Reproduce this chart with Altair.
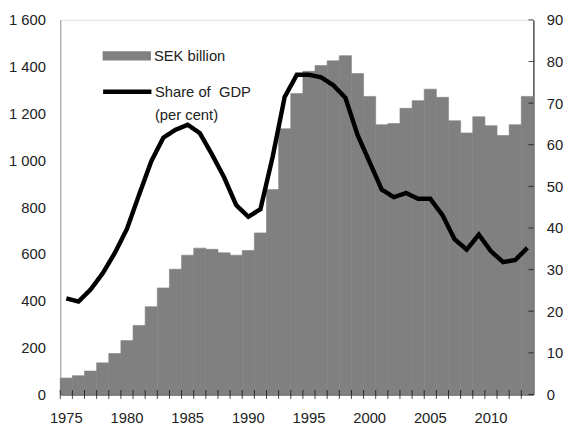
import altair as alt
import pandas as pd

years = list(range(1975, 2014))
sek_billion = [70, 80, 100, 135, 175, 230, 295, 375, 455, 535,
               595, 625, 620, 605, 595, 615, 690, 875, 1135, 1285,
               1380, 1405, 1425, 1447, 1371, 1273, 1152, 1157, 1222, 1255,
               1304, 1269, 1169, 1117, 1186, 1148, 1106, 1152, 1273]
share_gdp = [23.1, 22.3, 25.2, 29.1, 34.0, 39.8, 48.0, 56.0, 61.7, 63.6,
             64.8, 62.8, 57.7, 52.2, 45.5, 42.7, 44.5, 57.0, 71.5, 76.8,
             76.8, 76.2, 74.3, 71.3, 62.4, 55.8, 49.2, 47.4, 48.4, 47.0,
             47.0, 43.1, 37.3, 34.8, 38.4, 34.4, 31.8, 32.3, 35.2]
label_years = [1975, 1980, 1985, 1990, 1995, 2000, 2005, 2010]
left_ticks = [0, 200, 400, 600, 800, 1000, 1200, 1400, 1600]
right_ticks = [0, 10, 20, 30, 40, 50, 60, 70, 80, 90]
bar_name = "SEK billion"
line_name = "Share of\u00a0 GDP"
line_name2 = "(per cent)"

FONT = "Liberation Sans"
FS = 15
TXT = "#222222"

df = pd.DataFrame({"year": years, "sek": sek_billion, "share": share_gdp})
df_rt = pd.DataFrame({"v": right_ticks})

x_enc = alt.X("year:O", scale=alt.Scale(paddingInner=0, paddingOuter=0),
              axis=alt.Axis(values=label_years, ticks=False, labelAngle=0,
                            labelPadding=16, title=None, domainColor="#000",
                            labelColor=TXT, labelFontSize=FS, labelFont=FONT))

bars = alt.Chart(df).mark_bar(color="#808080", stroke="#808080", strokeWidth=0.6).transform_calculate(
    s1=f"'{bar_name}'"
).encode(
    x=x_enc,
    y=alt.Y("sek:Q", scale=alt.Scale(domain=[0, 1600], nice=False),
            axis=alt.Axis(values=left_ticks, ticks=False, grid=False, title=None,
                          labelExpr="replace(format(datum.value, ','), ',', ' ')",
                          labelPadding=15, domainColor="#999999",
                          labelColor=TXT, labelFontSize=FS, labelFont=FONT)),
    fill=alt.Fill("s1:N", scale=alt.Scale(domain=[bar_name], range=["#808080"]),
                  legend=alt.Legend(orient="none", legendX=43, legendY=12, title=None,
                                    symbolType="M-1,-0.19L1,-0.19L1,0.19L-1,0.19Z",
                                    symbolSize=2401, symbolStrokeWidth=0,
                                    labelOffset=3, padding=0,
                                    labelFontSize=FS, labelFont=FONT, labelColor=TXT)),
)

xticks = alt.Chart(df).mark_tick(color="#000", thickness=1, size=9, orient="vertical").encode(
    x=alt.X("year:O", bandPosition=0),
    y=alt.Y(datum=0, scale=alt.Scale(domain=[0, 1600], nice=False), axis=None),
)

line = alt.Chart(df).mark_line(color="#000", strokeWidth=4.5).transform_calculate(
    s2=f"'{line_name}'", s3=f"'{line_name2}'"
).encode(
    x=alt.X("year:O"),
    y=alt.Y("share:Q", scale=alt.Scale(domain=[0, 90], nice=False),
            axis=alt.Axis(orient="right", values=right_ticks, ticks=False, grid=False,
                          title=None, labelPadding=13, domainColor="#000",
                          labelColor=TXT, labelFontSize=FS, labelFont=FONT)),
    stroke=alt.Stroke("s2:N", scale=alt.Scale(domain=[line_name], range=["#000"]),
                      legend=alt.Legend(orient="none", legendX=41, legendY=46, title=None,
                                        symbolType="stroke", symbolSize=2401,
                                        symbolStrokeWidth=4.5, labelOffset=1, padding=0,
                                        labelFontSize=FS, labelFont=FONT, labelColor=TXT)),
    strokeDash=alt.StrokeDash("s3:N", scale=alt.Scale(domain=[line_name2], range=[[1, 0]]),
                              legend=alt.Legend(orient="none", legendX=42, legendY=71, title=None,
                                                symbolType="stroke", symbolSize=2401,
                                                symbolOpacity=0, labelOffset=3, padding=0,
                                                labelFontSize=FS, labelFont=FONT, labelColor=TXT)),
)

rticks = alt.Chart(df_rt).mark_tick(color="#000", thickness=1, size=5, orient="horizontal").encode(
    x=alt.value(477.5),
    y=alt.Y("v:Q", scale=alt.Scale(domain=[0, 90], nice=False), axis=None),
)

chart = alt.layer(bars, xticks, line, rticks).resolve_scale(
    y="independent", fill="independent", stroke="independent", strokeDash="independent"
).properties(
    width=480, height=380,
    autosize=alt.AutoSizeParams(type="none"),
    padding={"left": 53, "top": 9, "right": 30, "bottom": 31},
).configure_view(stroke="#444444", strokeWidth=1).configure(background="white")

chart.save("out.html", embed_options={"renderer": "svg", "actions": False})
